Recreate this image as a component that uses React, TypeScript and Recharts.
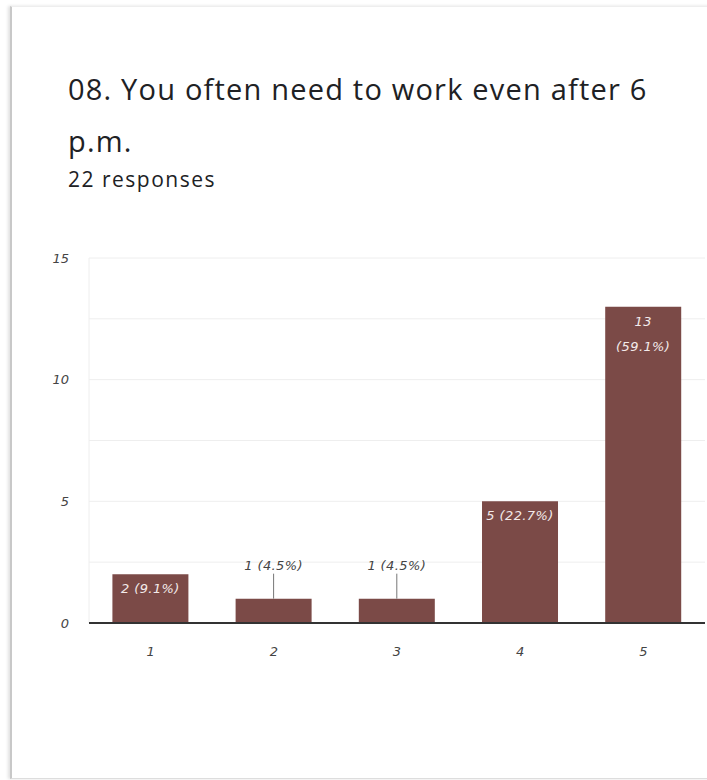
import React from 'react';
import { BarChart, Bar, XAxis, YAxis, CartesianGrid, LabelList } from 'recharts';

const categories = ['1', '2', '3', '4', '5'];
const counts = [2, 1, 1, 5, 13];
const percents = ['9.1%', '4.5%', '4.5%', '22.7%', '59.1%'];
const yTicks = [0, 2.5, 5, 7.5, 10, 12.5, 15];

const BAR_COLOR = '#7b4a47';
const LABEL_FONT = '"DejaVu Sans", sans-serif';

const data = categories.map((c, i) => ({
  name: c,
  value: counts[i],
  label: `${counts[i]} (${percents[i]})`,
}));

function BarLabel(props: any) {
  const { x, y, width, height, index } = props;
  const entry = data[index];
  const cx = x + width / 2;
  const style = { fontFamily: LABEL_FONT, fontStyle: 'italic', fontSize: 13, letterSpacing: 0.4 } as const;

  // short bars: label sits above with a leader line
  if (height < 30) {
    return (
      <g>
        <line x1={cx} x2={cx} y1={y - 25} y2={y} stroke="#777" strokeWidth={1} />
        <text x={cx} y={y - 29} textAnchor="middle" fill="#444" style={style}>
          {entry.label}
        </text>
      </g>
    );
  }
  // long labels wrap onto two lines
  if (entry.label.length > 9) {
    return (
      <text x={cx} y={y + 19} textAnchor="middle" fill="#f3eaea" style={style}>
        <tspan x={cx}>{entry.value}</tspan>
        <tspan x={cx} dy={25}>({percents[index]})</tspan>
      </text>
    );
  }
  return (
    <text x={cx} y={y + 19} textAnchor="middle" fill="#f3eaea" style={style}>
      {entry.label}
    </text>
  );
}

export default function App() {
  const tickStyle = { fill: '#444', fontSize: 13, fontStyle: 'italic', fontFamily: LABEL_FONT };
  return (
    <div style={{ position: 'absolute', left: 0, top: 0, width: 707, height: 780, background: '#fff', overflow: 'hidden' }}>
      <div
        style={{
          position: 'absolute', left: 10, top: 6, width: 720, height: 771,
          borderLeft: '2px solid #c8c8c8', borderTop: '1px solid #eeeeee', borderBottom: '1px solid #dddddd',
          boxShadow: '-2px 0 3px rgba(0,0,0,0.12)', background: '#fff',
        }}
      />
      <div style={{ position: 'absolute', left: 68, top: 63, fontFamily: '"Open Sans", sans-serif', fontSize: 29, letterSpacing: 1.2, lineHeight: '52px', color: '#202124', width: 630, whiteSpace: 'nowrap' }}>
        08. You often need to work even after 6<br />p.m.
      </div>
      <div style={{ position: 'absolute', left: 68, top: 165, fontFamily: '"Open Sans", sans-serif', fontSize: 21, letterSpacing: 1.5, color: '#202124' }}>
        22 responses
      </div>
      <div style={{ position: 'absolute', left: 0, top: 0 }}>
        <BarChart
          width={707}
          height={680}
          data={data}
          margin={{ top: 258, right: 2, bottom: 17, left: 49 }}
          barCategoryGap="19%"
        >
          <CartesianGrid vertical={false} stroke="#eeeeee" />
          <YAxis
            width={40}
            domain={[0, 15]}
            ticks={yTicks}
            interval={0}
            tickFormatter={(v: number) => (v % 5 === 0 ? String(v) : '')}
            axisLine={{ stroke: '#eeeeee' }}
            tickLine={false}
            tickSize={0}
            tickMargin={20}
            tick={tickStyle}
          />
          <XAxis
            dataKey="name"
            height={40}
            axisLine={{ stroke: '#333', strokeWidth: 2 }}
            tickLine={false}
            tickMargin={18}
            tick={tickStyle}
          />
          <Bar dataKey="value" fill={BAR_COLOR} isAnimationActive={false}>
            <LabelList dataKey="value" content={BarLabel} />
          </Bar>
        </BarChart>
      </div>
    </div>
  );
}
